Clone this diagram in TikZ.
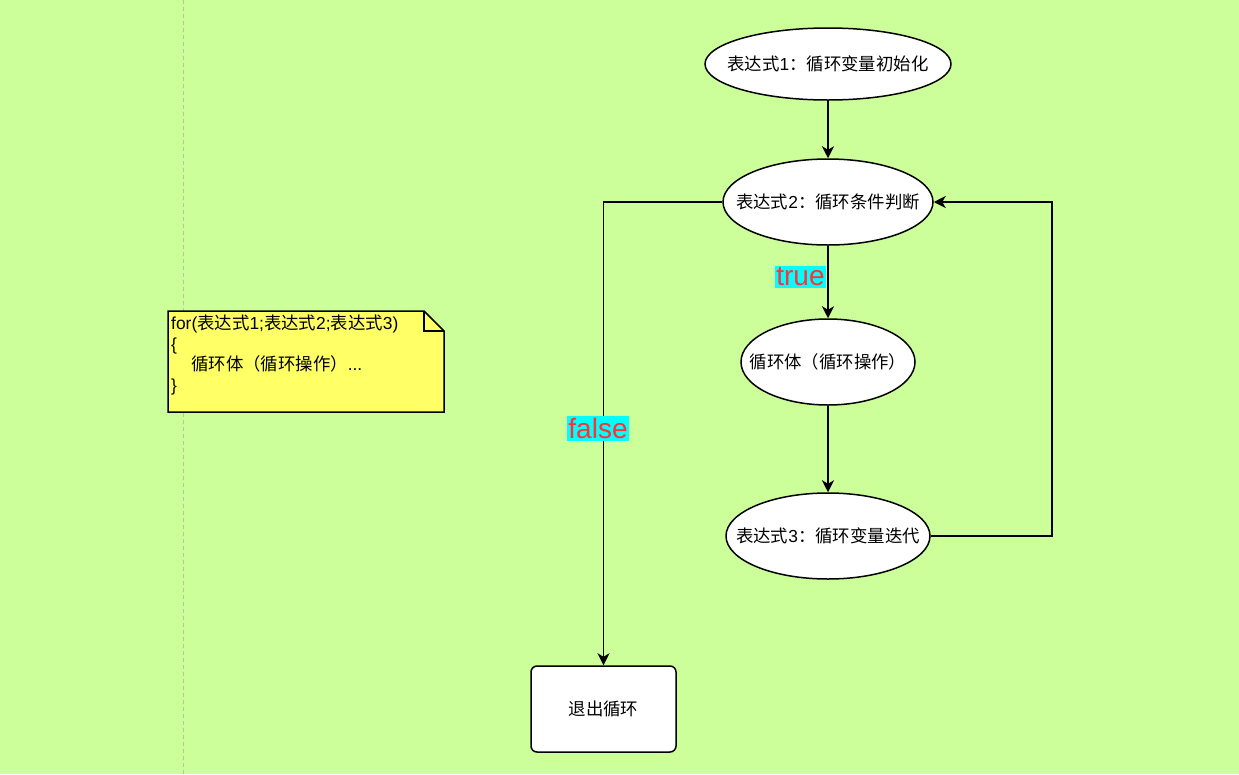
\documentclass[tikz,border=0pt]{standalone}
\usepackage{fontspec}
\setmainfont{Liberation Sans}
\newfontfamily\cjk{Noto Sans CJK SC}
\usetikzlibrary{shapes.geometric,arrows.meta,positioning,calc}
\definecolor{bggreen}{HTML}{CCFF99}
\definecolor{noteyellow}{HTML}{FFFF66}
\definecolor{labelred}{HTML}{FF3333}
\definecolor{labelcyan}{HTML}{00FFFF}
\definecolor{guidegray}{HTML}{B4C8A0}
\newcommand{\zh}[1]{{\cjk #1}}

\begin{document}
\begin{tikzpicture}[x=1pt,y=-1pt,
    every node/.style={font=\fontsize{17.4}{20.5}\selectfont},
    oval/.style={ellipse,draw,line width=1.5pt,fill=white,inner xsep=-40pt,inner ysep=0pt},
    flow/.style={line width=1.5pt,-{Stealth[length=12pt,width=12pt,inset=3.5pt]}},
    tag/.style={fill=labelcyan,text=labelred,inner xsep=1pt,inner ysep=2pt,font=\fontsize{28}{30}\selectfont}]
        %Page
        \fill[bggreen] (0,0) rectangle (1239,774);
        \useasboundingbox (0,0) rectangle (1239,774);
        \draw[guidegray,line width=1pt,dash pattern=on 4pt off 3pt] (183,0) -- (183,774);
        %Note
        \filldraw[fill=noteyellow,line width=1.5pt] (168,311) -- (424,311) -- (444,331) -- (444,412) -- (168,412) -- cycle;
        \draw[line width=1.5pt] (424,311) -- (424,331) -- (444,331);
        \node[anchor=north west,align=left,inner sep=0pt] (note) at (171,315)
            {for(\zh{表达式}1;\zh{表达式}2;\zh{表达式}3)\\\{\\\hspace*{20pt}\zh{循环体（循环操作）}...\\\}};
        %Flow nodes
        \node[oval,minimum width=246,minimum height=72] (init) at (828,64) {\zh{表达式}1\zh{：循环变量初始化}};
        \node[oval,minimum width=210,minimum height=86] (cond) at (828,202) {\zh{表达式}2\zh{：循环条件判断}};
        \node[oval,minimum width=174,minimum height=86] (body) at (828,362) {\zh{循环体（循环操作）}};
        \node[oval,minimum width=204,minimum height=86] (iter) at (828,536) {\zh{表达式}3\zh{：循环变量迭代}};
        \node[draw,rounded corners=6pt,line width=1.5pt,fill=white,minimum width=145,minimum height=86] (exit) at (603.5,709) {\zh{退出循环}};
        %Connectors
        \draw[flow] (init) -- (cond);
        \draw[flow] (cond) -- (body);
        \draw[flow] (body) -- (iter);
        \draw[flow] (iter.east) -- ++(121,0) |- (cond.east);
        \draw[flow] (cond.west) -| (exit.north);
        %Labels
        \node[tag] (truelbl) at (800.5,277) {true};
        \node[tag] (falselbl) at (598,428.5) {false};
\end{tikzpicture}
\end{document}
